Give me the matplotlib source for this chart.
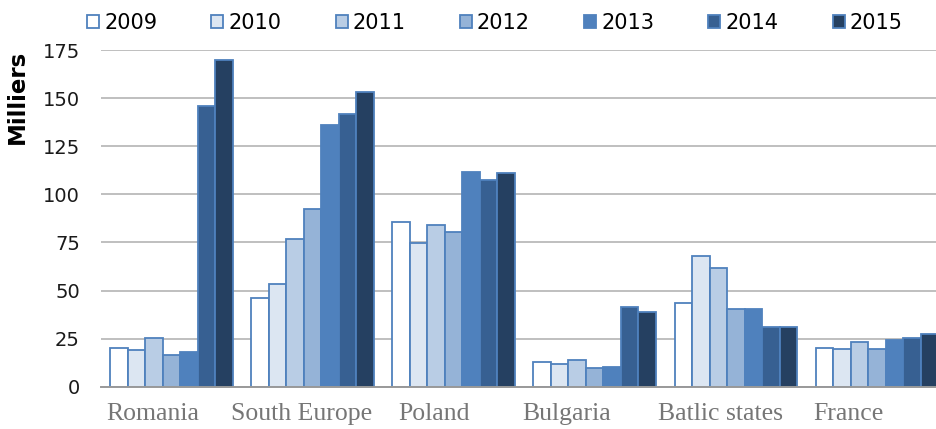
import matplotlib
matplotlib.use("Agg")
import matplotlib.pyplot as plt
import matplotlib.transforms as mtransforms
from matplotlib.patches import Patch
import numpy as np

# data (thousands)
regions = ["Romania", "South Europe", "Poland", "Bulgaria", "Batlic states", "France"]
years = ["2009", "2010", "2011", "2012", "2013", "2014", "2015"]
v2009 = [20, 46, 85.5, 13, 43.5, 20]
v2010 = [19, 53.5, 74.5, 12, 68, 19.5]
v2011 = [25.5, 77, 84, 14, 61.5, 23]
v2012 = [16.5, 92.5, 80.5, 9.5, 40.5, 19.5]
v2013 = [18, 136, 111.5, 10, 40.5, 24.5]
v2014 = [146, 142, 107.5, 41.5, 31, 25.5]
v2015 = [170, 153, 111, 39, 31, 27.5]
series = [v2009, v2010, v2011, v2012, v2013, v2014, v2015]

fills = ["#FFFFFF", "#DCE6F2", "#B9CDE5", "#95B3D7", "#4F81BD", "#376092", "#254061"]
edge = "#4F81BD"

fig = plt.figure(figsize=(9.36, 4.29), dpi=100)
ax = fig.add_axes([0.1077, 0.0986, 0.9045, 0.7844])

x = np.arange(len(regions))
w = 0.124
for j, vals in enumerate(series):
    ax.bar(x + (j - 3) * w, vals, width=w, color=fills[j], edgecolor=edge,
           linewidth=1.3, zorder=3)

ax.set_xlim(-0.5, 5.5)
ax.set_ylim(0, 175)
ax.set_yticks(range(0, 176, 25))
ax.yaxis.grid(True, color="#BFBFBF", linewidth=1.4, zorder=0)
ax.set_axisbelow(True)
for s in ["left", "right", "top"]:
    ax.spines[s].set_visible(False)
ax.spines["bottom"].set_color("#999999")
ax.spines["bottom"].set_linewidth(1.4)
ax.spines["bottom"].set_zorder(4)
ax.tick_params(axis="y", length=0, pad=15, labelsize=14, labelcolor="#1A1A1A")
ax.set_xticks([])

# category labels, shifted left a bit like the original
shifts = [-19, -11, -20, -28, -15, -28]
for i, name in enumerate(regions):
    tr = mtransforms.offset_copy(ax.get_xaxis_transform(), fig=fig,
                                 x=shifts[i], y=-27, units="dots")
    ax.text(x[i], 0, name, transform=tr, ha="center", va="center",
            family="Liberation Serif", fontsize=18.5, color="#767676")

fig.text(0.019, 1 - 97 / 429, "Milliers", rotation=90, ha="center", va="center",
         fontsize=16.5, fontweight="bold", color="#000000")

handles = [Patch(facecolor=fills[j], edgecolor=edge, linewidth=1.3) for j in range(7)]
fig.legend(handles, years, loc="center left", bbox_to_anchor=(87 / 936, 1 - 23 / 429),
           ncol=7, frameon=False, fontsize=15, handlelength=0.58, handleheight=0.58,
           handletextpad=0.24, columnspacing=2.6, borderpad=0, borderaxespad=0)

fig.savefig("out.png", dpi=100)
